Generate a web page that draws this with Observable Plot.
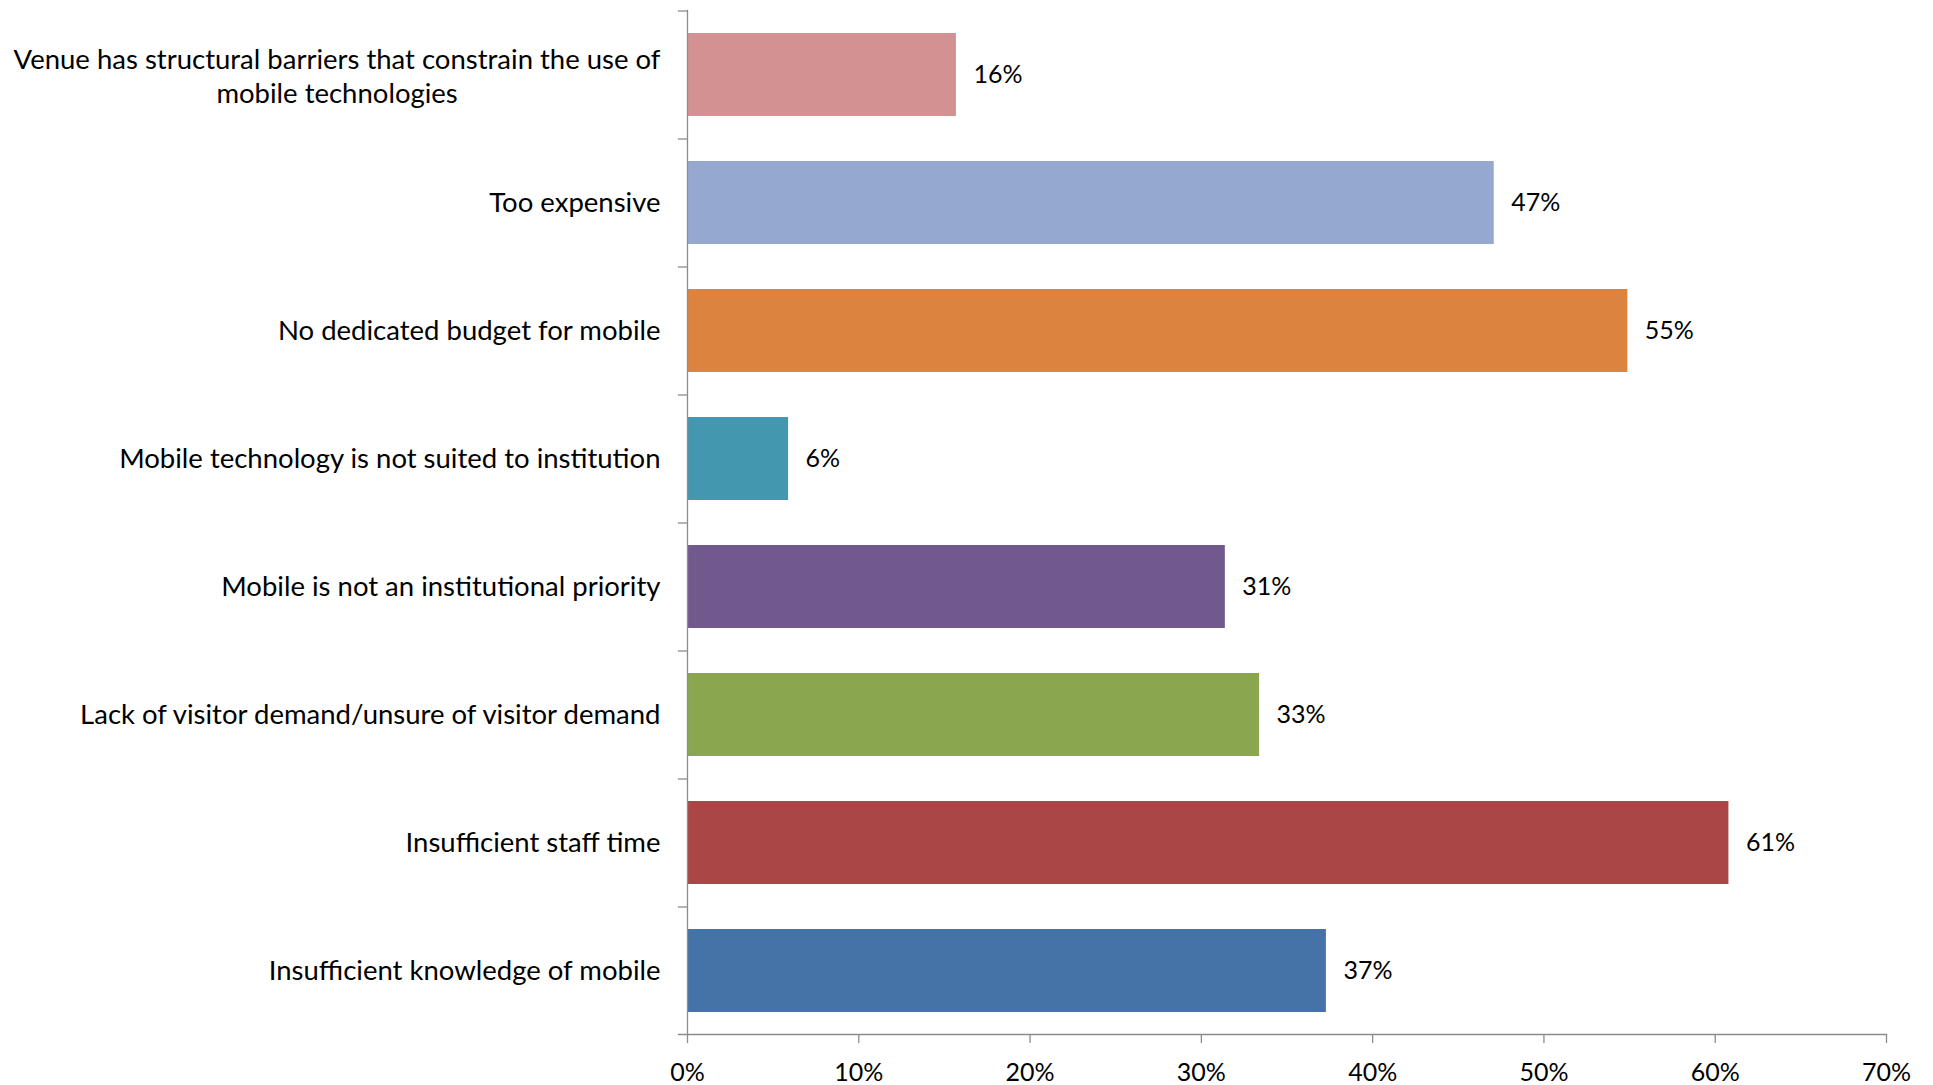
<!DOCTYPE html>
<html>
<head>
<meta charset="utf-8">
<script src="https://cdn.jsdelivr.net/npm/d3@7"></script>
<script src="https://cdn.jsdelivr.net/npm/@observablehq/plot@0.6"></script>
<style>
  html, body { margin: 0; padding: 0; background: #fff; }
  #chart svg { display: block; }
</style>
</head>
<body>
<div id="chart"></div>
<script>
const categories = [
  "Venue has structural barriers that constrain the use of\nmobile technologies",
  "Too expensive",
  "No dedicated budget for mobile",
  "Mobile technology is not suited to institution",
  "Mobile is not an institutional priority",
  "Lack of visitor demand/unsure of visitor demand",
  "Insufficient staff time",
  "Insufficient knowledge of mobile"
];
const values = [15.7, 47.1, 54.9, 5.9, 31.4, 33.4, 60.8, 37.3];
const valueLabels = ["16%", "47%", "55%", "6%", "31%", "33%", "61%", "37%"];
const colors = ["#D39291", "#95A9D0", "#DB833F", "#4398B0", "#72598D", "#8AA64F", "#AA4645", "#4572A7"];
const xTicks = [0, 10, 20, 30, 40, 50, 60, 70];
const xTickLabels = ["0%", "10%", "20%", "30%", "40%", "50%", "60%", "70%"];

const data = categories.map((c, i) => ({category: c, value: values[i], label: valueLabels[i], color: colors[i]}));

const W = 1933, H = 1085;
const mL = 687, mR = 47, mT = 10, mB = 51;
const fontFamily = "Lato, 'Open Sans', sans-serif";
const fs = 25;      // numbers
const fsCat = 27.5; // category labels
const axisColor = "#8C8C8C";
const step = (H - mT - mB) / categories.length;

const ctx = document.createElement("canvas").getContext("2d");
ctx.font = `${fsCat}px Lato`;
const multi = data.filter(d => d.category.includes("\n"));
const single = data.filter(d => !d.category.includes("\n"));
const labelGap = 27;

const marks = [
  Plot.barX(data, {x: "value", y: "category", fill: "color"}),
  Plot.text(data, {x: "value", y: "category", text: "label", textAnchor: "start", dx: 17, fill: "#000", fontSize: fs}),
  Plot.text(single, {x: 0, y: "category", text: "category", textAnchor: "end", dx: -labelGap, fill: "#000", fontSize: fsCat}),
  ...multi.map(d => {
    const w = Math.max(...d.category.split("\n").map(s => ctx.measureText(s).width));
    return Plot.text([d], {x: 0, y: "category", text: "category", textAnchor: "middle", lineHeight: 1.25, dx: -(labelGap + w / 2), fill: "#000", fontSize: fsCat});
  }),
  Plot.frame({anchor: "left", stroke: axisColor, strokeWidth: 1.3}),
  Plot.frame({anchor: "bottom", stroke: axisColor, strokeWidth: 1.3, insetLeft: -9}),
  Plot.axisY({tickSize: 9, tickFormat: () => "", stroke: axisColor, strokeWidth: 1.3, dy: -step / 2}),
  Plot.axisX({ticks: xTicks, tickSize: 9, tickPadding: 20, tickFormat: (d) => xTickLabels[xTicks.indexOf(d)], stroke: axisColor, strokeWidth: 1.3, fill: "#000", fontSize: fs, label: null})
];

const chart = Plot.plot({
  width: W, height: H,
  marginLeft: mL, marginRight: mR, marginTop: mT, marginBottom: mB,
  style: {fontFamily, background: "#fff", color: "#000"},
  x: {domain: [0, 70]},
  y: {domain: categories, paddingInner: 0.355, paddingOuter: 0.1775, label: null},
  marks
});
document.getElementById("chart").appendChild(chart);
</script>
</body>
</html>
